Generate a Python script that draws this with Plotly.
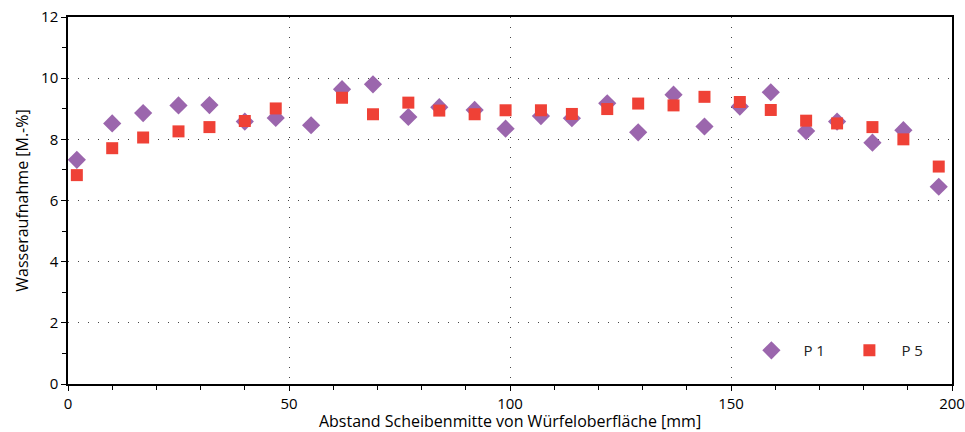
import plotly.graph_objects as go

# Abstand Scheibenmitte von Würfeloberfläche [mm]
abstand = [2, 10, 17, 25, 32, 40, 47, 55, 62, 69, 77, 84, 92, 99, 107,
           114, 122, 129, 137, 144, 152, 159, 167, 174, 182, 189, 197]

# Wasseraufnahme [M.-%]
p1 = [7.33, 8.52, 8.86, 9.11, 9.12, 8.58, 8.70, 8.46, 9.64, 9.80, 8.73, 9.05, 8.96, 8.35,
      8.76, 8.69, 9.18, 8.23, 9.46, 8.42, 9.07, 9.54, 8.27, 8.58, 7.89, 8.30, 6.45]
p5 = [6.83, 7.71, 8.06, 8.26, 8.40, 8.60, 9.01, None, 9.36, 8.82, 9.20, 8.94, 8.82, 8.95,
      8.95, 8.83, 8.99, 9.17, 9.11, 9.39, 9.22, 8.96, 8.61, 8.52, 8.40, 8.00, 7.11]

x_ticks = [0, 50, 100, 150, 200]
y_ticks = [0, 2, 4, 6, 8, 10, 12]

FONT = "Open Sans"
PURPLE = "#9b66ad"
RED = "#ef4136"

fig = go.Figure()
fig.add_trace(go.Scatter(
    x=abstand, y=p1, mode="markers", name="P 1",
    marker=dict(symbol="diamond", size=14, color=PURPLE, line=dict(width=0)),
))
fig.add_trace(go.Scatter(
    x=abstand, y=p5, mode="markers", name="P 5",
    marker=dict(symbol="square", size=12, color=RED, line=dict(width=0)),
))

axis_common = dict(
    showline=True, linecolor="black", linewidth=1.5, mirror=True,
    ticks="outside", ticklen=5, tickwidth=1.2, tickcolor="black",
    showgrid=True, gridcolor="#444", gridwidth=1, griddash="1px,9px",
    zeroline=False, automargin=False,
    tickfont=dict(family=FONT, size=15, color="black"),
)

fig.update_xaxes(
    range=[0, 200], tickvals=x_ticks,
    minor=dict(dtick=10, ticklen=4, tickcolor="black", tickwidth=1.2, showgrid=False),
    title=dict(text="Abstand Scheibenmitte von Würfeloberfläche [mm]",
               font=dict(family=FONT, size=16, color="black"), standoff=3),
    **axis_common,
)
fig.update_yaxes(
    range=[0, 12], tickvals=y_ticks,
    minor=dict(dtick=1, ticklen=4, tickcolor="black", tickwidth=1.2, showgrid=False),
    title=dict(text="Wasseraufnahme [M.-%]",
               font=dict(family=FONT, size=16, color="black"), standoff=8),
    **axis_common,
)

fig.update_layout(
    width=965, height=432,
    margin=dict(l=68, r=13, t=17, b=48, autoexpand=False),
    plot_bgcolor="white", paper_bgcolor="white",
    font=dict(family=FONT, size=15, color="black"),
    showlegend=True,
    legend=dict(
        orientation="h", x=0.7595, y=0.046, xanchor="left", yanchor="bottom",
        bgcolor="rgba(0,0,0,0)", itemwidth=54, entrywidth=29, entrywidthmode="pixels",
        font=dict(family=FONT, size=15, color="#222"),
    ),
)

# the page's default body margin would shift the figure by 8 px
fig.write_html("out.html", config={"displayModeBar": False},
               post_script="document.body.style.margin = '0';")
